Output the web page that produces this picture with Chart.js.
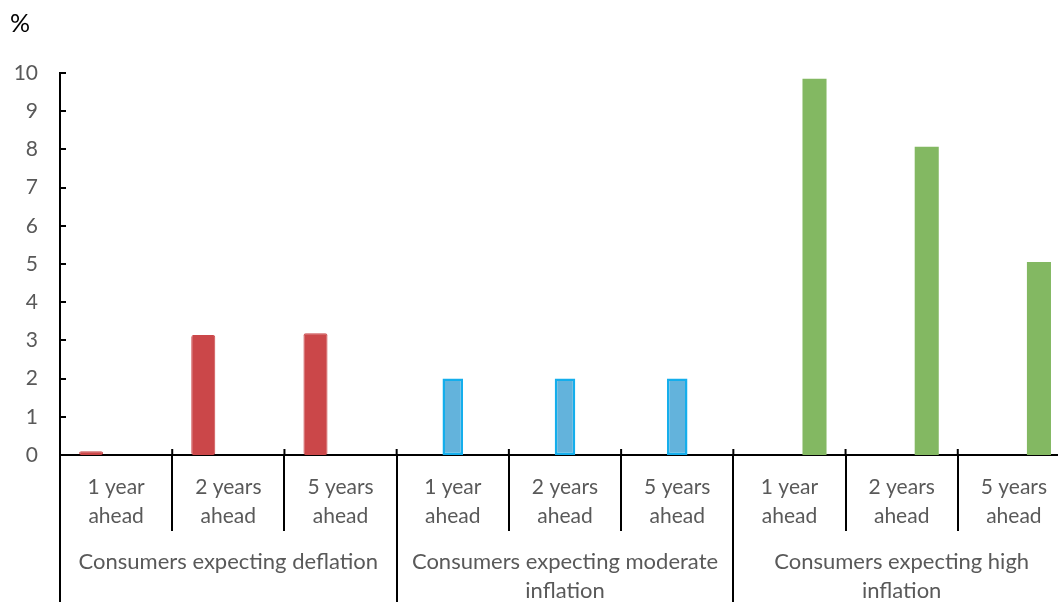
<!DOCTYPE html>
<html>
<head>
<meta charset="utf-8">
<script src="https://cdn.jsdelivr.net/npm/chart.js@4/dist/chart.umd.min.js"></script>
<style>
  html, body { margin: 0; padding: 0; background: #fff; overflow: hidden; width: 1058px; height: 602px; }
  #wrap { position: absolute; left: 0; top: 0; width: 1070px; height: 606px; }
  canvas { display: block; }
</style>
</head>
<body>
<div id="wrap"><canvas id="c" width="1070" height="606"></canvas></div>
<script>
// ---- data ----
const periods = [["1 year", "ahead"], ["2 years", "ahead"], ["5 years", "ahead"]];
const groups = ["Consumers expecting deflation", ["Consumers expecting moderate", "inflation"], ["Consumers expecting high", "inflation"]];
const deflation = [0.1, 3.14, 3.19];
const moderate = [2.0, 2.0, 2.0];
const high = [9.85, 8.07, 5.05];
const yTicks = [0, 1, 2, 3, 4, 5, 6, 7, 8, 9, 10];

// build category labels & padded series
const labels = [].concat(periods, periods, periods);
const nulls = [null, null, null];
const dDefl = [].concat(deflation, nulls, nulls);
const dMod = [].concat(nulls, moderate, nulls);
const dHigh = [].concat(nulls, nulls, high);

const FONT = "Lato, 'Open Sans', sans-serif";
const GRAY = '#595959';

const insideTicks = {
  id: 'insideTicks',
  afterDraw(chart) {
    const ctx = chart.ctx;
    const xs = chart.scales.x, ys = chart.scales.y;
    ctx.save();
    ctx.strokeStyle = '#000';
    ctx.lineWidth = 2;
    ctx.beginPath();
    yTicks.forEach(v => {
      const py = Math.round(ys.getPixelForValue(v));
      ctx.moveTo(xs.left, py);
      ctx.lineTo(xs.left + 6, py);
    });
    const n = labels.length;
    for (let i = 0; i <= n; i++) {
      let px;
      if (i === 0) px = xs.left;
      else if (i === n) px = xs.right;
      else px = (xs.getPixelForValue(i - 1) + xs.getPixelForValue(i)) / 2;
      ctx.moveTo(px, ys.bottom);
      ctx.lineTo(px, ys.bottom - 6);
    }
    ctx.stroke();
    ctx.restore();
  }
};

new Chart(document.getElementById('c'), {
  type: 'bar',
  data: {
    labels: labels,
    datasets: [
      { label: 'deflation', data: dDefl, backgroundColor: '#CB4749', borderColor: '#CB4749', borderWidth: 1, borderSkipped: false, borderRadius: 2 },
      { label: 'moderate', data: dMod, backgroundColor: '#63B3DC', borderColor: '#14AEEC', borderWidth: 2.5, borderSkipped: false, barPercentage: 0.82 },
      { label: 'high', data: dHigh, backgroundColor: '#83B862', borderColor: '#83B862', borderWidth: 0 }
    ]
  },
  options: {
    responsive: false,
    animation: false,
    devicePixelRatio: 1,
    layout: { padding: { left: 10, top: 0, right: 0, bottom: 0 } },
    datasets: { bar: { categoryPercentage: 0.67, barPercentage: 0.96, grouped: true } },
    plugins: {
      legend: { display: false },
      tooltip: { enabled: false },
      title: {
        display: true, text: '%', align: 'start', color: '#000',
        font: { family: FONT, size: 25, weight: 'normal', lineHeight: 1.2 },
        padding: { top: 9, bottom: 34 }
      }
    },
    scales: {
      y: {
        min: 0, max: 10,
        afterFit(scale) { scale.width = 50; },
        afterBuildTicks(scale) { scale.ticks = yTicks.map(v => ({ value: v })); },
        grid: { display: false, drawTicks: false, tickLength: 0 },
        border: { display: true, color: '#000', width: 2 },
        ticks: { color: GRAY, padding: 22, font: { family: FONT, size: 21 } }
      },
      x: {
        type: 'category',
        position: 'bottom',
        offset: true,
        afterFit(scale) { scale.height = 76; },
        grid: { offset: true, drawOnChartArea: false, drawTicks: true, tickLength: 76, color: '#000', lineWidth: 2 },
        border: { display: true, color: '#000', width: 2 },
        ticks: { autoSkip: false, maxRotation: 0, minRotation: 0, padding: -58, color: GRAY, font: { family: FONT, size: 21, lineHeight: 1.38 } }
      },
      x2: {
        type: 'category',
        position: 'bottom',
        labels: groups,
        offset: true,
        afterFit(scale) { scale.height = 75; },
        grid: { offset: true, drawOnChartArea: false, drawTicks: true, tickLength: 71, color: '#000', lineWidth: 2 },
        border: { display: false },
        ticks: { autoSkip: false, maxRotation: 0, minRotation: 0, padding: -54.5, color: GRAY, font: { family: FONT, size: 22, lineHeight: 1.318 } }
      }
    }
  },
  plugins: [insideTicks]
});
</script>
</body>
</html>
